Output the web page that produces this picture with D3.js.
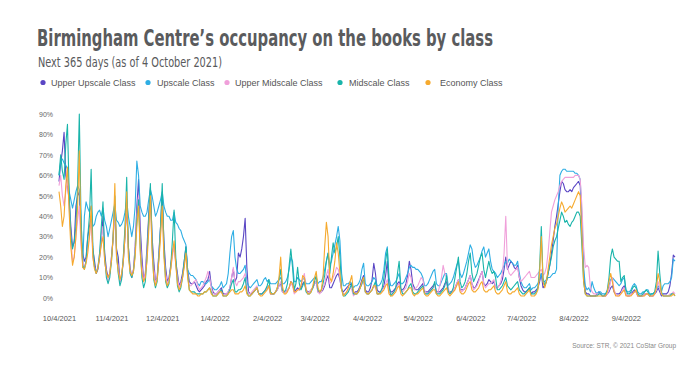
<!DOCTYPE html>
<html><head><meta charset="utf-8">
<script src="https://cdn.jsdelivr.net/npm/d3@7"></script>
<style>body{margin:0;background:#fff}svg{display:block}</style>
</head><body><svg id="c" width="700" height="367"></svg>
<script>
const startDate = "2021-10-04";
const seriesNames = ["Upper Upscale Class","Upscale Class","Upper Midscale Class","Midscale Class","Economy Class"];
const tickLabels = ["10/4/2021","11/4/2021","12/4/2021","1/4/2022","2/4/2022","3/4/2022","4/4/2022","5/4/2022","6/4/2022","7/4/2022","8/4/2022","9/4/2022"];
const yTicks = [0,10,20,30,40,50,60,70,80,90];

const upperUpscale = [
57,66,72,81,60,55,48, 35,25,27,45,50,52,30, 22,18,20,30,35,40,24, 18,12,14,20,28,40,22,
14,10,12,20,30,45,24, 20,8,10,18,30,45,25, 15,10,14,25,45,58,35, 20,9,12,25,40,54,30,
18,8,10,22,35,50,28, 15,8,10,16,22,26,18, 12,6,8,12,18,25,14, 8,7,7,8,6,4,3,
4,5,6,8,9,13,6, 3,2,2,3,4,5,2, 2,2,3,5,10,14,8, 10,22,20,24,30,39,15,
3,2,2,3,4,5,2, 2,2,3,4,5,6,2, 2,2,3,4,6,7,3, 3,3,4,5,8,7,3,
4,5,4,5,7,8,4, 3,3,4,5,7,8,3, 3,3,4,6,9,11,5, 5,7,9,11,12,9,4,
3,4,5,6,7,6,2, 3,3,4,6,9,11,4, 3,3,5,9,17,12,4, 3,3,4,6,11,18,5,
3,3,4,5,7,8,4, 4,5,7,11,18,14,7, 5,4,4,5,6,7,3, 3,3,4,5,6,7,3,
3,3,4,5,7,8,3, 3,3,4,5,7,9,4, 4,4,5,7,9,11,7, 5,5,7,9,11,13,7,
6,7,9,8,7,8,5, 5,6,7,9,14,20,14, 16,18,17,15,14,16,10, 6,4,3,3,4,5,2,
3,3,4,5,8,12,5, 6,8,12,16,22,28,35, 40,46,52,57,56,53,52, 52,53,52,54,55,56,57,
55,35,12,3,2,2,1, 1,1,1,2,3,2,1, 1,1,2,3,5,6,3, 2,2,2,3,5,6,2,
1,1,2,3,4,3,1, 1,1,1,2,2,2,1, 1,1,2,3,5,3,1, 2,2,2,3,6,12,21, 20];

const upscale = [
60,67,68,66,65,63,52, 48,44,48,52,55,53,40, 15,40,47,44,42,45,35, 36,40,42,43,40,44,38,
35,30,34,38,42,46,38, 37,35,36,38,42,48,40, 35,30,35,45,67,60,45, 42,40,40,42,48,53,50,
45,40,42,45,48,52,45, 42,40,40,38,38,42,37, 36,34,33,30,28,26,14, 12,11,11,10,9,7,6,
8,8,7,7,8,9,6, 5,4,4,5,6,8,5, 6,7,12,22,30,33,20, 14,12,12,13,14,16,8,
6,5,6,7,8,9,6, 6,7,9,10,8,9,7, 7,7,7,8,9,10,7, 7,8,10,14,20,18,8,
8,10,9,8,9,10,7, 7,7,8,9,10,10,7, 8,8,10,14,18,22,16, 18,22,26,30,35,28,12,
6,6,7,7,8,7,5, 6,6,7,9,14,17,7, 6,6,7,8,10,9,6, 6,7,9,14,22,25,10,
6,6,7,8,10,12,7, 7,8,10,12,15,16,15, 15,14,14,13,12,10,6, 6,7,9,11,13,14,7,
6,6,8,10,12,12,6, 7,8,10,13,16,18,12, 10,12,15,18,22,26,24, 18,15,16,18,20,23,25,
20,22,24,18,14,13,12, 10,11,12,14,16,18,17, 19,18,17,16,16,18,12, 8,6,5,5,6,7,4,
5,5,6,7,9,12,8, 8,9,10,10,11,12,12, 14,45,60,62,63,63,62, 62,62,62,62,61,61,60,
58,40,15,6,4,5,3, 8,5,3,2,3,3,2, 2,2,3,6,9,10,9, 8,7,6,7,9,10,4,
3,3,4,6,7,6,3, 2,2,3,3,4,4,2, 2,2,3,4,6,5,3, 6,7,7,7,8,10,19, 18];

const upperMidscale = [
55,60,50,45,52,58,45, 30,18,20,30,38,45,25, 18,15,18,25,30,38,20, 15,13,15,22,30,35,18,
12,8,12,20,28,42,20, 15,8,10,20,32,48,22, 14,10,14,25,40,50,28, 15,8,12,22,35,48,25,
14,7,10,20,32,45,22, 12,7,9,14,20,26,16, 10,5,7,10,16,22,12, 6,6,7,8,9,6,4,
5,6,8,10,13,10,5, 2,2,2,3,4,3,1, 2,2,3,5,10,15,8, 6,8,8,9,10,12,5,
2,2,3,4,5,6,2, 2,2,3,4,5,5,2, 2,2,3,4,6,8,3, 3,3,4,5,7,6,2,
3,4,4,6,9,12,4, 2,3,4,5,7,8,3, 2,3,5,7,11,14,7, 8,10,12,15,14,10,4,
2,2,3,4,5,4,1, 2,2,3,5,7,8,3, 2,2,3,4,6,5,2, 2,3,4,5,7,9,3,
2,2,3,4,6,7,3, 3,4,5,8,12,10,5, 4,5,6,8,10,9,4, 2,2,3,4,5,6,2,
3,6,10,16,12,10,5, 2,3,4,5,7,9,4, 3,4,5,7,9,11,7, 4,5,6,8,11,13,7,
5,6,7,7,8,9,5, 5,6,8,12,22,40,15, 12,11,12,13,14,15,10, 8,9,10,11,12,13,10,
10,10,11,12,13,14,11, 12,15,22,32,42,45,48, 50,52,55,57,58,59,59, 59,59,59,59,60,60,60,
58,45,25,15,16,15,5, 3,2,2,2,2,2,1, 1,1,2,4,8,10,4, 2,1,1,2,4,5,2,
1,1,2,2,3,3,1, 1,1,1,2,2,2,1, 1,1,2,4,8,5,2, 1,1,1,1,2,2,3, 2];

const midscale = [
60,70,62,58,75,85,52, 30,24,28,35,55,90,40, 16,14,18,30,40,63,25, 15,12,15,22,35,47,20,
10,7,10,18,30,50,22, 12,6,9,20,35,59,25, 12,10,13,22,38,48,25, 10,5,8,20,38,56,28,
9,5,8,20,35,56,25, 8,5,7,15,28,43,20, 6,3,5,10,18,25,12, 4,3,3,3,2,2,2,
2,2,3,3,4,5,3, 1,1,1,2,3,4,1, 1,1,2,4,7,9,3, 3,4,4,5,7,10,3,
1,1,2,3,4,5,2, 2,2,3,4,6,9,3, 2,2,3,5,9,14,4, 3,4,7,16,24,15,4,
7,15,7,4,6,8,3, 2,2,3,5,8,11,4, 3,4,7,11,18,22,12, 20,27,22,25,30,20,5,
1,1,2,3,5,7,2, 2,2,3,5,7,10,3, 2,2,3,4,6,8,2, 2,3,5,10,18,24,7,
1,2,3,5,12,18,5, 2,2,3,4,6,7,3, 2,2,3,4,5,6,2, 2,2,3,4,5,8,2,
2,2,3,4,6,11,3, 2,3,5,10,15,20,8, 5,6,8,12,18,22,12, 8,10,12,16,20,22,14,
10,14,18,14,12,13,10, 4,4,5,6,8,10,6, 5,4,5,6,7,8,4, 3,2,2,3,4,5,2,
2,2,3,5,15,35,10, 6,8,12,16,20,25,28, 30,34,38,42,40,37,38, 36,35,37,38,40,42,42,
40,25,8,2,1,1,1, 1,1,1,1,2,2,1, 1,2,4,10,20,24,20, 19,18,18,8,10,11,4,
2,2,3,5,6,5,2, 1,1,2,3,4,3,1, 2,2,3,8,23,12,3, 1,1,1,1,1,2,2, 1];

const economy = [
52,45,35,40,55,64,42, 25,16,20,30,45,72,30, 15,14,17,22,30,45,20, 14,12,15,20,26,30,18,
12,10,12,18,30,56,20, 13,9,12,18,30,52,20, 13,11,13,20,35,45,22, 12,8,10,18,32,50,22,
10,6,9,18,30,45,20, 9,6,8,14,22,28,16, 7,4,6,10,15,22,10, 4,3,2,2,2,1,1,
2,2,3,3,4,5,2, 1,1,1,2,3,3,1, 1,1,2,3,4,4,2, 2,2,3,3,4,6,2,
1,1,2,3,4,5,2, 1,1,2,3,4,6,2, 2,2,3,5,10,20,6, 2,2,3,5,8,7,3,
3,4,4,6,11,10,4, 2,2,3,6,10,13,5, 3,4,10,25,37,30,10, 8,12,18,27,22,12,4,
1,2,3,5,8,11,3, 2,2,3,5,8,10,3, 2,2,3,4,6,6,2, 2,2,3,4,6,7,2,
1,1,2,3,5,6,2, 1,2,3,4,5,5,2, 1,2,2,3,4,5,2, 1,1,2,3,4,4,2,
1,1,2,3,4,5,2, 1,2,3,4,6,8,3, 2,2,3,5,7,8,4, 3,3,4,5,7,8,4,
3,3,4,4,5,6,3, 2,2,3,4,6,8,3, 2,2,3,3,4,5,2, 1,1,1,2,3,4,1,
1,1,2,4,12,30,8, 5,8,14,20,26,30,34, 36,40,44,47,45,42,43, 44,45,44,46,48,50,52,
50,30,8,2,1,1,1, 1,1,1,1,1,1,1, 1,1,3,8,12,8,3, 1,1,1,2,3,4,1,
1,1,1,2,3,4,1, 1,1,1,1,2,2,1, 1,1,2,5,12,8,2, 1,1,1,1,1,1,2, 1];

const seriesValues = [upperUpscale, upscale, upperMidscale, midscale, economy];
const colors = ["#5a46c4","#2eaee4","#f0a0da","#19b4aa","#f6aa2e"];

const svg = d3.select("#c");
const parse = d3.timeParse("%Y-%m-%d");
const parseTick = d3.timeParse("%m/%d/%Y");
const t0 = parse(startDate);
const dates = upperUpscale.map((_, i) => d3.timeDay.offset(t0, i));

const x = d3.scaleTime().domain([dates[0], dates[dates.length - 1]]).range([59, 675]);
const y = d3.scaleLinear().domain([0, 90]).range([298, 114]);

// Title
svg.append("text").attr("x", 37).attr("y", 46)
  .attr("font-family", "Liberation Sans Narrow, DejaVu Sans Condensed, sans-serif")
  .attr("font-weight", "bold").attr("font-size", 23).attr("fill", "#5a5b5d")
  .attr("textLength", 456).attr("lengthAdjust", "spacingAndGlyphs")
  .text("Birmingham Centre\u2019s occupancy on the books by class");
svg.append("text").attr("x", 38).attr("y", 67)
  .attr("font-family", "Liberation Sans Narrow, DejaVu Sans Condensed, sans-serif")
  .attr("font-size", 14).attr("fill", "#58595b")
  .attr("textLength", 184).attr("lengthAdjust", "spacingAndGlyphs")
  .text("Next 365 days (as of 4 October 2021)");

// Legend
const legX = [43, 148, 227, 340, 428];
const legTextX = [51, 157, 235, 349, 440];
const leg = svg.append("g");
seriesNames.forEach((n, i) => {
  leg.append("circle").attr("cx", legX[i]).attr("cy", 82.5).attr("r", 2.6).attr("fill", colors[i]);
  leg.append("text").attr("x", legTextX[i]).attr("y", 85.5)
    .attr("font-family", "Liberation Sans, Arial, sans-serif").attr("font-size", 9)
    .attr("fill", "#555").text(n);
});

// Y axis labels
const yAxis = d3.axisLeft(y).tickValues(yTicks).tickSize(0).tickPadding(0).tickFormat(d => d + "%");
const gy = svg.append("g").attr("transform", "translate(53,0)").call(yAxis);
gy.select(".domain").remove();
gy.selectAll("text").attr("font-family", "Liberation Sans, Arial, sans-serif").attr("font-size", 7).attr("fill", "#666");

// X axis labels
const xAxis = d3.axisBottom(x).tickValues(tickLabels.map(parseTick)).tickSize(0).tickPadding(0)
  .tickFormat((d, i) => tickLabels[i]);
const gx = svg.append("g").attr("transform", "translate(0,316)").call(xAxis);
gx.select(".domain").remove();
gx.selectAll("text").attr("font-family", "Liberation Sans, Arial, sans-serif").attr("font-size", 7.5).attr("fill", "#555");

// Lines
const line = d3.line().x((d, i) => x(dates[i])).y(d => y(d));
seriesValues.forEach((vals, i) => {
  svg.append("path").datum(vals).attr("d", line).attr("fill", "none")
    .attr("stroke", colors[i]).attr("stroke-width", 1.1).attr("stroke-linejoin", "round");
});

// Source
svg.append("text").attr("x", 676).attr("y", 348).attr("text-anchor", "end")
  .attr("font-family", "Liberation Sans Narrow, Liberation Sans, sans-serif").attr("font-size", 6.5)
  .attr("fill", "#888").text("Source: STR, \u00a9 2021 CoStar Group");
</script></body></html>
